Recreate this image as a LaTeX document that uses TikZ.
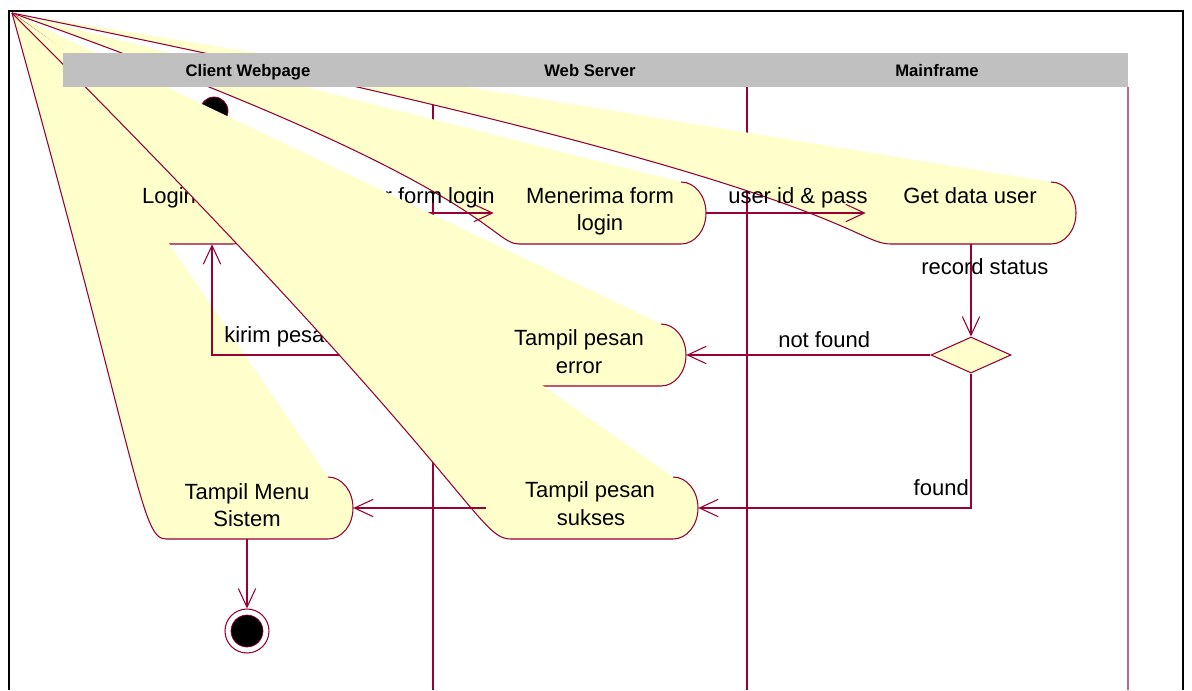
\documentclass[tikz,border=0pt]{standalone}
\usepackage{fontspec}
\setmainfont{Liberation Sans}
\usetikzlibrary{arrows.meta,shapes.geometric}
\definecolor{rline}{RGB}{153,0,51}
\definecolor{ryel}{RGB}{255,255,204}
\definecolor{rgray}{RGB}{192,192,192}
% name, curve control x, L, R, T, B : a broken activity shape whose first corner collapsed to the page corner
\newcommand{\rosewedge}[6]{%
  \fill[ryel] (12,13) .. controls (#2,#5) and (#2,#6) .. ({#3+25},#6) -- ({#4-25},#6)
     .. controls ({#4-11},#6) and (#4,{(#5+#6)/2+17}) .. (#4,{(#5+#6)/2})
     .. controls (#4,{(#5+#6)/2-17}) and ({#4-11},#5) .. ({#4-25},#5) -- cycle;
  \draw[rline, line width=0.8pt] (12,13) .. controls (#2,#5) and (#2,#6) .. ({#3+25},#6) -- ({#4-25},#6)
     .. controls ({#4-11},#6) and (#4,{(#5+#6)/2+17}) .. (#4,{(#5+#6)/2})
     .. controls (#4,{(#5+#6)/2-17}) and ({#4-11},#5) .. ({#4-25},#5);
  \node[actbox, minimum width={(#4-#3)*0.75pt}] (#1) at ({(#3+#4)/2},{(#5+#6)/2}) {};
}
\begin{document}
\begin{tikzpicture}[x=0.75pt,y=-0.75pt,
  trans/.style={draw=rline, line width=0.8pt, -{Straight Barb[length=14pt,width=13pt]}},
  lbl/.style={font=\fontsize{16.5}{20}\selectfont, inner sep=0pt, text=black},
  acttext/.style={lbl, anchor=base},
  actbox/.style={draw=none, minimum height=46.5pt, inner sep=0pt},
  hdr/.style={font=\fontsize{12.5}{15}\selectfont\bfseries, inner sep=0pt, anchor=base},
  lane/.style={draw=rline, line width=0.8pt}]
\useasboundingbox (0,0) rectangle (1192,690);
\fill[white] (0,0) rectangle (1192,690);
% frame
\draw[line width=1.5pt] (9,690) -- (9,11) -- (1183,11) -- (1183,690);
% swimlane lines
\coordinate (l1t) at (433,87); \coordinate (l1b) at (433,690);
\coordinate (l2t) at (747,87); \coordinate (l2b) at (747,690);
\coordinate (l3t) at (1128,87); \coordinate (l3b) at (1128,690);
\draw[lane] (l1t) -- (l1b);
\draw[lane] (l2t) -- (l2b);
\draw[lane, draw=rline!60] (l3t) -- (l3b);
% start
\node[circle, fill=black, draw=rline, line width=0.6pt, minimum size=21pt, inner sep=0pt] (start) at (214,111) {};
% Login
\rosewedge{A}{80}{80}{258}{182}{244}
\node[acttext] (Atx) at (169,203) {Login};
\draw[trans] (start.south) -- (start.south |- A.north);
% Menerima form login
\rosewedge{B}{490}{494}{706}{182}{244}
\node[acttext] (Btx1) at (600,203) {Menerima form};
\node[acttext] (Btx2) at (600,230) {login};
% Get data user
\rosewedge{C}{850}{866}{1076}{182}{244}
\node[acttext] (Ctx) at (970,203) {Get data user};
% Login -> Menerima
\draw[trans] (A.east) -- (B.west);
\node[lbl, anchor=base east] (lAB) at (495,203) {user form login};
% Tampil pesan error
\rosewedge{D}{444}{474}{686}{324}{386}
\node[acttext] (Dtx1) at (579,345) {Tampil pesan};
\node[acttext] (Dtx2) at (579,373) {error};
% Tampil Menu Sistem
\rosewedge{F}{141}{141}{353}{477}{539}
\node[acttext] (Ftx1) at (247,499) {Tampil Menu};
\node[acttext] (Ftx2) at (247,526) {Sistem};
% error -> Login
\coordinate (kx) at (212,0);
\draw[trans] (D.west) -| (A.south -| kx);
\node[lbl, anchor=base west] (lDA) at (224,342) {kirim pesan error};
% Tampil pesan sukses
\rosewedge{E}{476}{486}{698}{477}{539}
\node[acttext] (Etx1) at (590,497) {Tampil pesan};
\node[acttext] (Etx2) at (591,525) {sukses};
\draw[trans] (E.west) -- (F.east);
% Menerima -> Get data user
\draw[trans] (B.east) -- (C.west);
\node[lbl, anchor=base west] (lBC) at (728,203) {user id \& pass};
% decision
\node[diamond, draw=rline, fill=ryel, line width=0.8pt, minimum width=60pt, minimum height=27pt, inner sep=0pt, aspect=2.2] (dec) at (971,355) {};
\draw[trans] (C.south) -- (dec.north);
\node[lbl, anchor=base west] (lCd) at (921,274) {record status};
\draw[trans] (dec.west) -- (D.east);
\node[lbl, anchor=base west] (lnf) at (778,347) {not found};
\draw[trans] (dec.south) |- (E.east);
\node[lbl, anchor=base east] (lf) at (969,495) {found};
% end
\node[circle, fill=white, draw=rline, line width=0.8pt, minimum size=33pt, inner sep=0pt] (fin) at (247,631) {};
\node[circle, fill=black, draw=rline, line width=0.5pt, minimum size=24pt, inner sep=0pt] (finin) at (247,631) {};
\draw[trans] (F.south) -- (fin.north);
% header
\fill[rgray] (63,53) rectangle (1128,87);
\node[hdr] (h1) at (248,76) {Client Webpage};
\node[hdr] (h2) at (590,76) {Web Server};
\node[hdr] (h3) at (937,76) {Mainframe};
\end{tikzpicture}
\end{document}
